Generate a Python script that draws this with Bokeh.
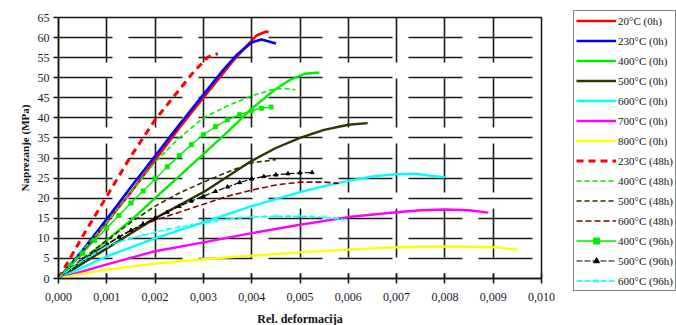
from bokeh.plotting import figure
from bokeh.models import (Legend, LegendItem, FixedTicker, CustomJSTickFormatter)
from bokeh.embed import file_html
from bokeh.resources import INLINE

# ---------------- data ----------------
x_ticks = [0.000, 0.001, 0.002, 0.003, 0.004, 0.005, 0.006, 0.007, 0.008, 0.009, 0.010]
y_ticks = [0, 5, 10, 15, 20, 25, 30, 35, 40, 45, 50, 55, 60, 65]

s20_0h_x = [0, 0.0005, 0.001, 0.0015, 0.002, 0.0025, 0.003, 0.0033, 0.0036, 0.0039, 0.0041, 0.0043, 0.00435]
s20_0h_y = [0, 6.5, 14, 21.5, 29.5, 37.5, 45, 49.5, 54, 58, 60.5, 61.5, 61.3]

s230_0h_x = [0, 0.0005, 0.001, 0.0015, 0.002, 0.0025, 0.003, 0.0034, 0.0037, 0.004, 0.0042, 0.0043, 0.0045]
s230_0h_y = [0, 7, 14.8, 22.8, 30.5, 38.3, 45.8, 51.8, 55.8, 58.8, 59.5, 59.2, 58.5]

s400_0h_x = [0, 0.0005, 0.001, 0.0015, 0.002, 0.0025, 0.003, 0.0035, 0.004, 0.0045, 0.0048, 0.0051, 0.0054]
s400_0h_y = [0, 4.5, 9.5, 14.5, 20, 25.5, 31, 36.5, 42.3, 47.2, 49.5, 51, 51.3]

s500_0h_x = [0, 0.001, 0.002, 0.003, 0.004, 0.0045, 0.005, 0.0055, 0.006, 0.0064]
s500_0h_y = [0, 7.5, 15, 21.5, 29.3, 32.5, 35, 37, 38.3, 38.7]

s600_0h_x = [0, 0.001, 0.002, 0.003, 0.004, 0.005, 0.0055, 0.006, 0.0065, 0.007, 0.0074, 0.0077, 0.008]
s600_0h_y = [0, 5.5, 10, 14, 18, 21.5, 23, 24.3, 25.4, 26, 26.1, 25.6, 25.2]

s700_0h_x = [0, 0.001, 0.002, 0.003, 0.004, 0.005, 0.006, 0.007, 0.0075, 0.008, 0.0085, 0.0089]
s700_0h_y = [0, 3.5, 6.8, 9, 11.3, 13.4, 15.3, 16.5, 17, 17.2, 17, 16.4]

s800_0h_x = [0, 0.0005, 0.001, 0.002, 0.003, 0.004, 0.005, 0.006, 0.007, 0.008, 0.009, 0.0095]
s800_0h_y = [0, 1.2, 2.2, 3.7, 4.8, 5.7, 6.5, 7.2, 7.8, 8, 7.8, 7.2]

s230_48h_x = [0, 0.0005, 0.001, 0.0015, 0.002, 0.0025, 0.0028, 0.003, 0.0031, 0.0033]
s230_48h_y = [0, 10.5, 20.5, 30.5, 39.5, 47, 51.5, 54, 55.2, 56]

s400_48h_x = [0, 0.0005, 0.001, 0.0015, 0.002, 0.0025, 0.003, 0.0035, 0.004, 0.0045, 0.0048, 0.0049]
s400_48h_y = [0, 7, 14, 21.5, 29, 35, 40, 43, 45.5, 47.3, 47.2, 47]

s500_48h_x = [0, 0.0005, 0.001, 0.0015, 0.002, 0.0025, 0.003, 0.0035, 0.004, 0.0045]
s500_48h_y = [0, 5, 9.5, 14, 18, 21.3, 24, 26.5, 28.8, 29.6]

s600_48h_x = [0, 0.0005, 0.001, 0.0015, 0.002, 0.0025, 0.003, 0.0035, 0.004, 0.0045, 0.005, 0.0055, 0.0058]
s600_48h_y = [0, 4.5, 8.5, 12, 14.5, 16.5, 18.5, 20.5, 22, 23.3, 24, 24, 23.7]

s400_96h_x = [0, 0.00025, 0.0005, 0.00075, 0.001, 0.00125, 0.0015, 0.00175, 0.002, 0.00225,
              0.0025, 0.00275, 0.003, 0.00325, 0.0035, 0.00375, 0.004, 0.0042, 0.0044]
s400_96h_y = [0, 3.2, 6.3, 9.5, 12.6, 15.7, 18.8, 21.8, 24.8, 27.8,
              30.6, 33.3, 35.8, 37.8, 39.5, 40.8, 41.8, 42.4, 42.7]

s500_96h_x = [0, 0.00025, 0.0005, 0.00075, 0.001, 0.00125, 0.0015, 0.00175, 0.002, 0.00225, 0.0025,
              0.00275, 0.003, 0.00325, 0.0035, 0.00375, 0.004, 0.00425, 0.0045, 0.00475, 0.005, 0.00525]
s500_96h_y = [0, 2.4, 4.6, 6.6, 8.5, 10.3, 12, 13.6, 15, 16.5, 18,
              19.3, 20.5, 21.7, 22.8, 23.9, 24.8, 25.4, 25.8, 26.1, 26.3, 26.4]

s600_96h_x = [0, 0.00025, 0.0005, 0.00075, 0.001, 0.00125, 0.0015, 0.00175, 0.002, 0.00225, 0.0025,
              0.00275, 0.003, 0.00325, 0.0035, 0.00375, 0.004, 0.00425, 0.0045, 0.00475, 0.005,
              0.00525, 0.0055, 0.00575, 0.0059]
s600_96h_y = [0, 2.5, 4.5, 6.3, 8, 9.1, 10, 10.8, 11.5, 12.2, 12.8,
              13.3, 13.8, 14.3, 14.8, 15.1, 15.3, 15.4, 15.5, 15.5, 15.5,
              15.4, 15.2, 15.0, 14.6]

labels = ["20°C (0h)", "230°C (0h)", "400°C (0h)", "500°C (0h)", "600°C (0h)", "700°C (0h)",
          "800°C (0h)", "230°C (48h)", "400°C (48h)", "500°C (48h)", "600°C (48h)",
          "400°C (96h)", "500°C (96h)", "600°C (96h)"]

# ---------------- figure ----------------
SERIF = "Liberation Serif"

p = figure(width=676, height=325, frame_width=483, frame_height=261,
           min_border_left=58, min_border_right=135, min_border_top=17, min_border_bottom=47,
           x_range=(0, 0.010), y_range=(0, 65),
           output_backend="svg", toolbar_location=None)

p.outline_line_color = "#111111"
p.outline_line_width = 1.5

# grid
p.xgrid.ticker = FixedTicker(ticks=x_ticks)
p.ygrid.ticker = FixedTicker(ticks=y_ticks)
p.xgrid.grid_line_color = "#1a1a1a"
p.ygrid.grid_line_color = "#1a1a1a"
p.xgrid.grid_line_width = 1.6
p.ygrid.grid_line_width = 1.6
p.ygrid.grid_line_dash = "54 16"
p.xgrid.grid_line_dash = "49 16"
p.xgrid.grid_line_dash_offset = 44

# axes
xa = p.xaxis[0]
ya = p.yaxis[0]
xa.ticker = FixedTicker(ticks=x_ticks)
ya.ticker = FixedTicker(ticks=y_ticks)
xa.formatter = CustomJSTickFormatter(code="return tick.toFixed(3).replace('.', ',');")
for ax in (xa, ya):
    ax.axis_line_color = "#111111"
    ax.axis_line_width = 1.5
    ax.major_tick_line_color = "#111111"
    ax.major_tick_line_width = 1.5
    ax.minor_tick_line_color = None
    ax.major_label_text_font = SERIF
    ax.major_label_text_font_size = "12px"
    ax.major_label_text_color = "#1a1a2a"
    ax.axis_label_text_font = SERIF
    ax.axis_label_text_font_style = "bold"
    ax.axis_label_text_color = "#111111"
xa.major_tick_in = 5
xa.major_tick_out = 5
ya.major_tick_in = 0
ya.major_tick_out = 5
xa.major_label_standoff = 9
ya.major_label_standoff = 4
xa.axis_label = "Rel. deformacija"
ya.axis_label = "Naprezanje (MPa)"
xa.axis_label_text_font_size = "12px"
ya.axis_label_text_font_size = "11px"
xa.axis_label_standoff = 8
ya.axis_label_standoff = 4

# ---------------- series ----------------
items = []

def add_line(xs, ys, color, width, dash="solid", label=None, marker=None, msize=4):
    r = p.line(xs, ys, line_color=color, line_width=width, line_dash=dash)
    rs = [r]
    if marker is not None:
        m = p.scatter(xs, ys, marker=marker, size=msize, line_color=color,
                      fill_color=color, line_width=1)
        rs.append(m)
    items.append(LegendItem(label=label, renderers=rs))

add_line(s20_0h_x, s20_0h_y, "#ff0000", 2.6, label=labels[0])
add_line(s230_0h_x, s230_0h_y, "#0000ff", 2.6, label=labels[1])
add_line(s400_0h_x, s400_0h_y, "#00ee00", 2.4, label=labels[2])
add_line(s500_0h_x, s500_0h_y, "#333300", 2.4, label=labels[3])
add_line(s600_0h_x, s600_0h_y, "#00ffff", 2.4, label=labels[4])
add_line(s700_0h_x, s700_0h_y, "#ff00ff", 2.4, label=labels[5])
add_line(s800_0h_x, s800_0h_y, "#ffff00", 2.4, label=labels[6])
add_line(s230_48h_x, s230_48h_y, "#ff0000", 3, dash="7 5", label=labels[7])
add_line(s400_48h_x, s400_48h_y, "#00ee00", 1.6, dash="5 3", label=labels[8])
add_line(s500_48h_x, s500_48h_y, "#333300", 1.6, dash="5 3", label=labels[9])
add_line(s600_48h_x, s600_48h_y, "#800000", 1.6, dash="6 3", label=labels[10])
add_line(s400_96h_x, s400_96h_y, "#00ee00", 1.4, label=labels[11], marker="square", msize=4)
add_line(s500_96h_x, s500_96h_y, "#000000", 1.2, dash="6 2", label=labels[12], marker="triangle", msize=4)
add_line(s600_96h_x, s600_96h_y, "#00ffff", 1.4, dash="6 2", label=labels[13], marker="x", msize=5)

legend = Legend(items=items, location=(32, -13),
                label_text_font=SERIF, label_text_font_size="11px",
                label_text_color="#111111",
                glyph_width=40, glyph_height=15, label_height=15,
                label_standoff=2, spacing=5, padding=2, margin=0,
                border_line_color="#111111", border_line_width=1.2,
                background_fill_color="white", background_fill_alpha=1.0)
p.add_layout(legend, "right")

open("out.html", "w").write(file_html(p, INLINE))
